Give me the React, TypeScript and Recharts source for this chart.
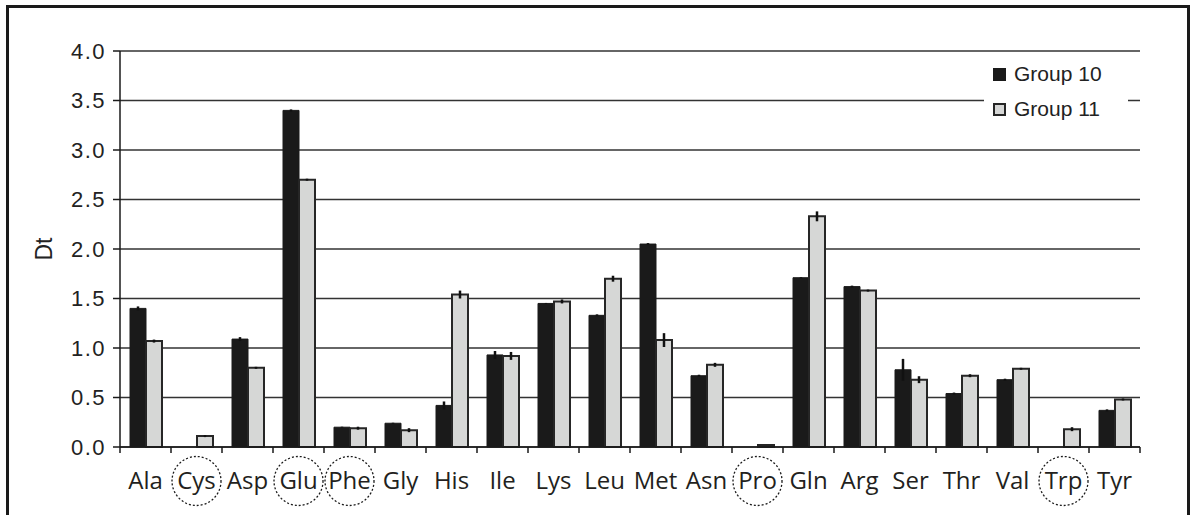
import React from 'react';
import { BarChart, Bar, XAxis, YAxis, CartesianGrid, ErrorBar, Legend } from 'recharts';

// Amino acids along the category axis
const aminoAcids = ['Ala', 'Cys', 'Asp', 'Glu', 'Phe', 'Gly', 'His', 'Ile', 'Lys', 'Leu', 'Met', 'Asn', 'Pro', 'Gln', 'Arg', 'Ser', 'Thr', 'Val', 'Trp', 'Tyr'];
// Amino acids highlighted with a dotted ring under the axis
const circledAcids = ['Cys', 'Glu', 'Phe', 'Pro', 'Trp'];

// Dt values and their errors per group
const group10 = [1.40, null, 1.09, 3.40, 0.20, 0.24, 0.42, 0.93, 1.45, 1.33, 2.05, 0.72, null, 1.71, 1.62, 0.78, 0.54, 0.68, null, 0.37];
const group10Err = [0.02, 0, 0.02, 0.01, 0.005, 0.005, 0.04, 0.04, 0.005, 0.01, 0.01, 0.01, 0, 0.005, 0.01, 0.11, 0.01, 0.01, 0, 0.01];
const group11 = [1.07, 0.11, 0.80, 2.70, 0.19, 0.17, 1.54, 0.92, 1.47, 1.70, 1.08, 0.83, 0.02, 2.33, 1.58, 0.68, 0.72, 0.79, 0.18, 0.48];
const group11Err = [0.015, 0.01, 0.01, 0.01, 0.015, 0.02, 0.04, 0.04, 0.02, 0.03, 0.07, 0.02, 0, 0.05, 0.01, 0.035, 0.015, 0.01, 0.02, 0.01];

const yTicks = [0, 0.5, 1, 1.5, 2, 2.5, 3, 3.5, 4];

const seriesNames = { g10: 'Group 10', g11: 'Group 11' };

const rows = aminoAcids.map((name, i) => ({
  name,
  g10: group10[i],
  g10Err: group10Err[i],
  g11: group11[i],
  g11Err: group11Err[i],
}));

const INK = '#1a1a1a';
const LIGHT = '#d6d7d6';
const SANS = "'Liberation Sans', Arial, sans-serif";

const AminoTick = (props: any) => {
  const { x, y, payload, index } = props;
  const half = typeof payload.offset === 'number' && payload.offset > 0 ? payload.offset : 25.5;
  const axisY = y - 8;
  const ringed = circledAcids.includes(payload.value);
  return (
    <g>
      <line x1={x - half} x2={x - half} y1={axisY} y2={axisY + 6} stroke={INK} strokeWidth={1.5} />
      {index === aminoAcids.length - 1 && (
        <line x1={x + half} x2={x + half} y1={axisY} y2={axisY + 6} stroke={INK} strokeWidth={1.5} />
      )}
      {ringed && (
        <circle cx={x} cy={axisY + 34} r={24.5} fill="none" stroke={INK} strokeWidth={1.3} strokeDasharray="2 2" />
      )}
      <text x={x} y={axisY + 42} textAnchor="middle" fontFamily="'Open Sans', sans-serif" fontSize={24} fill="#231f20">
        {payload.value}
      </text>
    </g>
  );
};

const ValueTick = (props: any) => {
  const { x, y, payload } = props;
  return (
    <text x={x} y={y} dy="0.36em" textAnchor="end" fontFamily={SANS} fontSize={22} fill="#222" letterSpacing={1.5}>
      {Number(payload.value).toFixed(1)}
    </text>
  );
};

const LegendBox = () => (
  <div style={{ position: 'relative', width: 144, height: 86, background: '#fff', fontFamily: SANS, fontSize: 21, color: '#222' }}>
    {[
      { label: seriesNames.g10, fill: INK, stroke: INK },
      { label: seriesNames.g11, fill: LIGHT, stroke: '#262626' },
    ].map((item, i) => (
      <div key={item.label} style={{ position: 'absolute', left: 9, top: 6 + i * 35, height: 24, display: 'flex', alignItems: 'center' }}>
        <div style={{ width: 13, height: 13, boxSizing: 'border-box', background: item.fill, border: `2px solid ${item.stroke}` }} />
        <span style={{ marginLeft: 8, lineHeight: '24px' }}>{item.label}</span>
      </div>
    ))}
  </div>
);

export default function App() {
  return (
    <div style={{ position: 'absolute', left: 0, top: 0, width: 1191, height: 515, overflow: 'hidden', background: '#fff' }}>
      <div
        style={{
          position: 'absolute',
          left: 6,
          top: 5,
          width: 1184,
          height: 560,
          boxSizing: 'border-box',
          border: `3px solid ${INK}`,
        }}
      />
      <div style={{ position: 'absolute', left: 0, top: 0 }}>
        <BarChart
          width={1191}
          height={515}
          data={rows}
          margin={{ top: 51, right: 51, left: 0, bottom: 0 }}
          barCategoryGap={10}
          barGap={0}
        >
          <CartesianGrid vertical={false} stroke="#333" strokeWidth={1.7} />
          <XAxis
            dataKey="name"
            interval={0}
            height={68}
            tickLine={false}
            tickSize={6}
            tickMargin={2}
            axisLine={{ stroke: INK, strokeWidth: 1.5 }}
            tick={<AminoTick />}
          />
          <YAxis
            width={120}
            domain={[0, 4]}
            ticks={yTicks}
            interval={0}
            tickSize={7}
            tickMargin={7}
            tickLine={{ stroke: INK, strokeWidth: 1.5 }}
            axisLine={{ stroke: INK, strokeWidth: 1.5 }}
            tick={<ValueTick />}
            label={{
              content: () => (
                <text x={44} y={249} transform="rotate(-90 44 249)" textAnchor="middle" dominantBaseline="central" fontFamily={SANS} fontSize={23} fill="#222">
                  Dt
                </text>
              ),
            }}
          />
          <Legend
            layout="horizontal"
            verticalAlign="middle"
            align="center"
            wrapperStyle={{ left: 984, top: 56, width: 144, height: 86 }}
            content={() => <LegendBox />}
          />
          <Bar dataKey="g10" name={seriesNames.g10} fill={INK} stroke={INK} strokeWidth={1} isAnimationActive={false}>
            <ErrorBar dataKey="g10Err" width={0} stroke="#111" strokeWidth={2.5} direction="y" />
          </Bar>
          <Bar dataKey="g11" name={seriesNames.g11} fill={LIGHT} stroke="#262626" strokeWidth={2} isAnimationActive={false}>
            <ErrorBar dataKey="g11Err" width={0} stroke="#111" strokeWidth={2.5} direction="y" />
          </Bar>
        </BarChart>
      </div>
    </div>
  );
}
